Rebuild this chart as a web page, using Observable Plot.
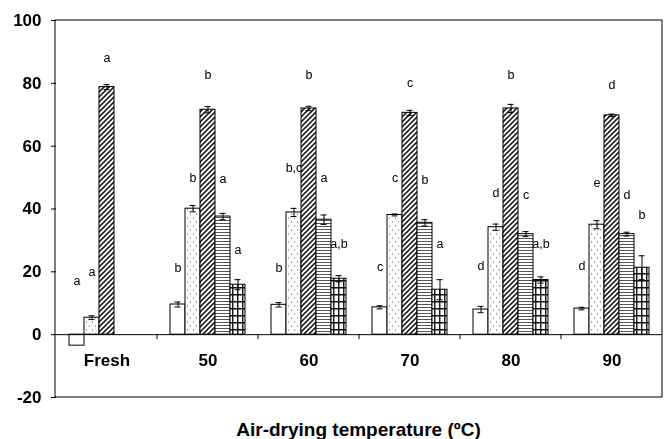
<!DOCTYPE html>
<html>
<head>
<meta charset="utf-8">
<script src="https://cdn.jsdelivr.net/npm/d3@7"></script>
<script src="https://cdn.jsdelivr.net/npm/@observablehq/plot@0.6"></script>
<style>
  body { margin: 0; background: #fff; font-family: "Liberation Sans", Arial, sans-serif; }
  #chart { filter: grayscale(1); height: 415px; }
  #title { width: 664px; box-sizing: border-box; padding-left: 55px; padding-right: 2px; text-align: center;
           font-weight: bold; font-size: 19px; line-height: 30px; height: 24px; color: #000; white-space: nowrap; }
</style>
</head>
<body>
<div id="chart"></div>
<div id="title">Air-drying temperature (ºC)</div>
<script>
// Groups (x categories) and series
const groups = ["Fresh", "50", "60", "70", "80", "90"];
const series = ["S1", "S2", "S3", "S4", "S5"];

// Values per series across groups
const s1Values = [-3.5, 9.6, 9.5, 8.7, 8.0, 8.3];
const s2Values = [5.4, 40.1, 38.9, 38.1, 34.2, 35.0];
const s3Values = [78.8, 71.6, 72.0, 70.6, 72.0, 69.8];
const s4Values = [0, 37.6, 36.6, 35.6, 32.0, 32.0];
const s5Values = [0, 15.9, 17.8, 14.3, 17.4, 21.3];

// Error (± half-width)
const s1Err = [0, 0.8, 0.7, 0.5, 1.0, 0.4];
const s2Err = [0.6, 1.0, 1.3, 0.3, 1.0, 1.3];
const s3Err = [0.8, 1.0, 0.7, 0.8, 1.3, 0.4];
const s4Err = [0, 1.0, 1.5, 1.0, 0.8, 0.6];
const s5Err = [0, 1.6, 1.0, 3.2, 1.0, 3.8];

// Significance letters and their heights (data units)
const s1Letters = ["a", "b", "b", "c", "d", "d"];
const s2Letters = ["a", "b", "b,c", "c", "d", "e"];
const s3Letters = ["a", "b", "b", "c", "b", "d"];
const s4Letters = ["", "a", "a", "b", "c", "d"];
const s5Letters = ["", "a", "a,b", "a", "a,b", "b"];
const s1LetterY = [17, 21.3, 21.3, 21.6, 21.7, 21.7];
const s2LetterY = [19.8, 50, 53, 50, 45.2, 48.4];
const s3LetterY = [88, 82.5, 82.5, 80, 82.5, 79.6];
const s4LetterY = [0, 49.4, 50, 49.3, 44.6, 44.6];
const s5LetterY = [0, 27, 29, 29, 29, 38];

const yTicks = [-20, 0, 20, 40, 60, 80, 100];

const allValues = [s1Values, s2Values, s3Values, s4Values, s5Values];
const allErr = [s1Err, s2Err, s3Err, s4Err, s5Err];
const allLetters = [s1Letters, s2Letters, s3Letters, s4Letters, s5Letters];
const allLetterY = [s1LetterY, s2LetterY, s3LetterY, s4LetterY, s5LetterY];

const rows = groups.flatMap((g, i) => series.map((s, j) => ({
  group: g, series: s, value: allValues[j][i], err: allErr[j][i],
  letter: allLetters[j][i], letterY: allLetterY[j][i]
})));
const errRows = rows.filter(d => d.err > 0);
const letterRows = rows.filter(d => d.letter !== "");

const chart = Plot.plot({
  width: 664,
  height: 415,
  marginLeft: 55,
  marginRight: 2,
  marginTop: 20,
  marginBottom: 18,
  style: { fontFamily: "'Liberation Sans', Arial, sans-serif", fontSize: "12px", color: "#000", background: "#fff" },
  fx: { domain: groups, paddingInner: 0, paddingOuter: 0, axis: null, label: null },
  x: { domain: series, paddingInner: 0, paddingOuter: 0.7, axis: null },
  y: { domain: [-20, 100], axis: null },
  color: { domain: series, range: ["white", "url(#pDots)", "url(#pDiag)", "url(#pHoriz)", "url(#pGrid)"] },
  marks: [
    Plot.axisY({ ticks: yTicks, tickSize: 5, tickPadding: 10, fontSize: 17, fontWeight: "bold", label: null, tickFormat: d => d }),
    Plot.barY(rows, { fx: "group", x: "series", y: "value", fill: "series", stroke: "#000", strokeWidth: 1 }),
    Plot.ruleY([0], { stroke: "#000", strokeWidth: 1 }),
    Plot.ruleX(errRows, { fx: "group", x: "series", y1: d => d.value - d.err, y2: d => d.value + d.err, stroke: "#000", strokeWidth: 1 }),
    Plot.tickY(errRows, { fx: "group", x: "series", y: d => d.value + d.err, insetLeft: 4.5, insetRight: 4.5, stroke: "#000", strokeWidth: 1 }),
    Plot.tickY(errRows, { fx: "group", x: "series", y: d => d.value - d.err, insetLeft: 4.5, insetRight: 4.5, stroke: "#000", strokeWidth: 1 }),
    Plot.text(letterRows, { fx: "group", x: "series", y: "letterY", text: "letter", fontSize: 12.5, fill: "#000", lineAnchor: "middle" }),
    Plot.text(groups, { fx: d => d, text: d => d, frameAnchor: "bottom", dy: -37, fontSize: 17, fontWeight: "bold", fill: "#000", lineAnchor: "middle" })
  ]
});

// pattern definitions
const svg = d3.select(chart.tagName.toLowerCase() === "svg" ? chart : chart.querySelector("svg"));
const defs = svg.insert("defs", ":first-child");
const pd = defs.append("pattern").attr("id", "pDots").attr("patternUnits", "userSpaceOnUse").attr("width", 6).attr("height", 8);
pd.append("rect").attr("width", 6).attr("height", 8).attr("fill", "#fff");
pd.append("circle").attr("cx", 1.5).attr("cy", 2).attr("r", 0.65).attr("fill", "#777");
pd.append("circle").attr("cx", 4.5).attr("cy", 6).attr("r", 0.65).attr("fill", "#777");
const pg = defs.append("pattern").attr("id", "pDiag").attr("patternUnits", "userSpaceOnUse").attr("width", 5).attr("height", 5);
pg.append("rect").attr("width", 5).attr("height", 5).attr("fill", "#fff");
pg.append("path").attr("d", "M-1,1 L1,-1 M0,5 L5,0 M4,6 L6,4").attr("stroke", "#222").attr("stroke-width", 1.6);
const ph = defs.append("pattern").attr("id", "pHoriz").attr("patternUnits", "userSpaceOnUse").attr("width", 4).attr("height", 3);
ph.append("rect").attr("width", 4).attr("height", 3).attr("fill", "#fff");
ph.append("line").attr("x1", 0).attr("x2", 4).attr("y1", 1.5).attr("y2", 1.5).attr("stroke", "#555").attr("stroke-width", 1);
const pq = defs.append("pattern").attr("id", "pGrid").attr("patternUnits", "userSpaceOnUse").attr("width", 5).attr("height", 7);
pq.append("rect").attr("width", 5).attr("height", 7).attr("fill", "#fff");
pq.append("path").attr("d", "M0.75,0 V7 M0,0.75 H5").attr("stroke", "#111").attr("stroke-width", 1.4);

// frame and group boundary ticks using the plot's scales
const fx = chart.scale("fx");
const y = chart.scale("y");
const [x0, x1] = fx.range;
const yTop = y.apply(100), yBot = y.apply(-20), y0 = y.apply(0);
const g = svg.append("g");
g.append("rect").attr("x", x0).attr("y", yTop).attr("width", x1 - x0).attr("height", yBot - yTop)
  .attr("fill", "none").attr("stroke", "#000").attr("stroke-width", 1);
groups.slice(1).forEach(gr => {
  const xx = fx.apply(gr);
  g.append("line").attr("x1", xx).attr("x2", xx).attr("y1", y0).attr("y2", y0 + 5).attr("stroke", "#000");
});

document.getElementById("chart").appendChild(chart);
</script>
</body>
</html>
